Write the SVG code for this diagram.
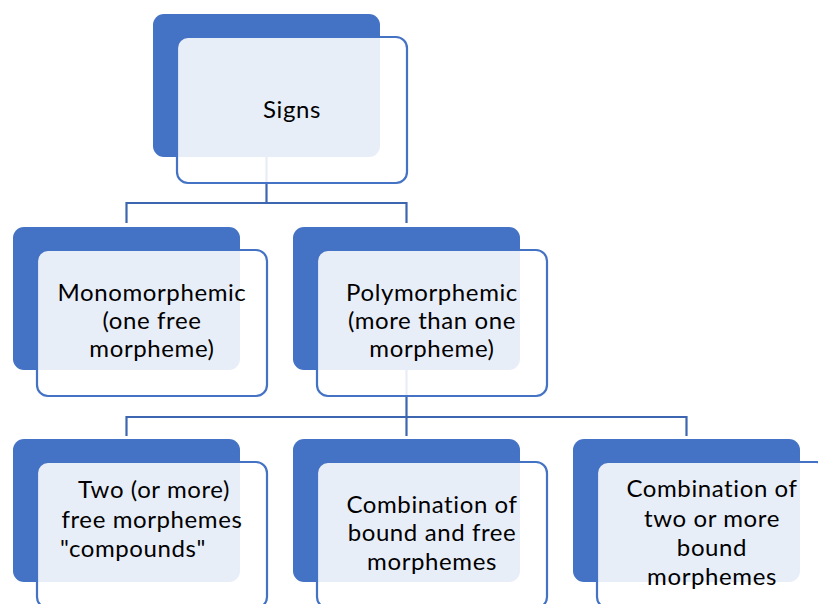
<svg xmlns="http://www.w3.org/2000/svg" width="818" height="604" viewBox="0 0 818 604">
  <style>
    .back { fill: #4472C4; }
    .front { fill: #FFFFFF; fill-opacity: 0.88; stroke: #4472C4; stroke-width: 2.2; }
    .link { fill: none; stroke: #3D66B0; stroke-width: 2.2; }
    text { font-family: Lato, "Open Sans", sans-serif; font-size: 24px; letter-spacing: 0.6px; fill: #000000; text-anchor: middle; }
  </style>
  <rect width="818" height="604" fill="#FFFFFF"/>

  <!-- hierarchy links -->
  <g id="connectors">
    <path class="link" d="M266.5 157 V203 M126.5 223 V203 H406.5 V223"/>
    <path class="link" d="M406.5 369 V417 M126.5 436 V417 H686.5 V436 M406.5 417 V436"/>
  </g>

  <g id="signs">
    <rect class="back" x="153" y="14" width="227" height="143" rx="11"/>
    <rect class="front" x="177" y="37" width="230" height="146" rx="11"/>
    <text x="292" y="118">Signs</text>
  </g>

  <g id="monomorphemic">
    <rect class="back" x="13" y="227" width="227" height="143" rx="11"/>
    <rect class="front" x="37" y="250" width="230" height="146" rx="11"/>
    <text x="152" y="301">Monomorphemic</text>
    <text x="152" y="329">(one free</text>
    <text x="152" y="357">morpheme)</text>
  </g>

  <g id="polymorphemic">
    <rect class="back" x="293" y="227" width="227" height="143" rx="11"/>
    <rect class="front" x="317" y="250" width="230" height="146" rx="11"/>
    <text x="432" y="301">Polymorphemic</text>
    <text x="432" y="329">(more than one</text>
    <text x="432" y="357">morpheme)</text>
  </g>

  <g id="compounds">
    <rect class="back" x="13" y="439" width="227" height="143" rx="11"/>
    <rect class="front" x="37" y="462" width="230" height="146" rx="11"/>
    <text x="154" y="498">Two (or more)</text>
    <text x="152" y="528">free morphemes</text>
    <text x="133" y="557">"compounds"</text>
  </g>

  <g id="bound-free">
    <rect class="back" x="293" y="439" width="227" height="143" rx="11"/>
    <rect class="front" x="317" y="462" width="230" height="146" rx="11"/>
    <text x="432" y="513">Combination of</text>
    <text x="432" y="541">bound and free</text>
    <text x="432" y="570">morphemes</text>
  </g>

  <g id="bound-bound">
    <rect class="back" x="573" y="439" width="227" height="143" rx="11"/>
    <rect class="front" x="597" y="462" width="230" height="146" rx="11"/>
    <text x="712" y="497">Combination of</text>
    <text x="712" y="527">two or more</text>
    <text x="712" y="556">bound</text>
    <text x="712" y="585">morphemes</text>
  </g>
</svg>
